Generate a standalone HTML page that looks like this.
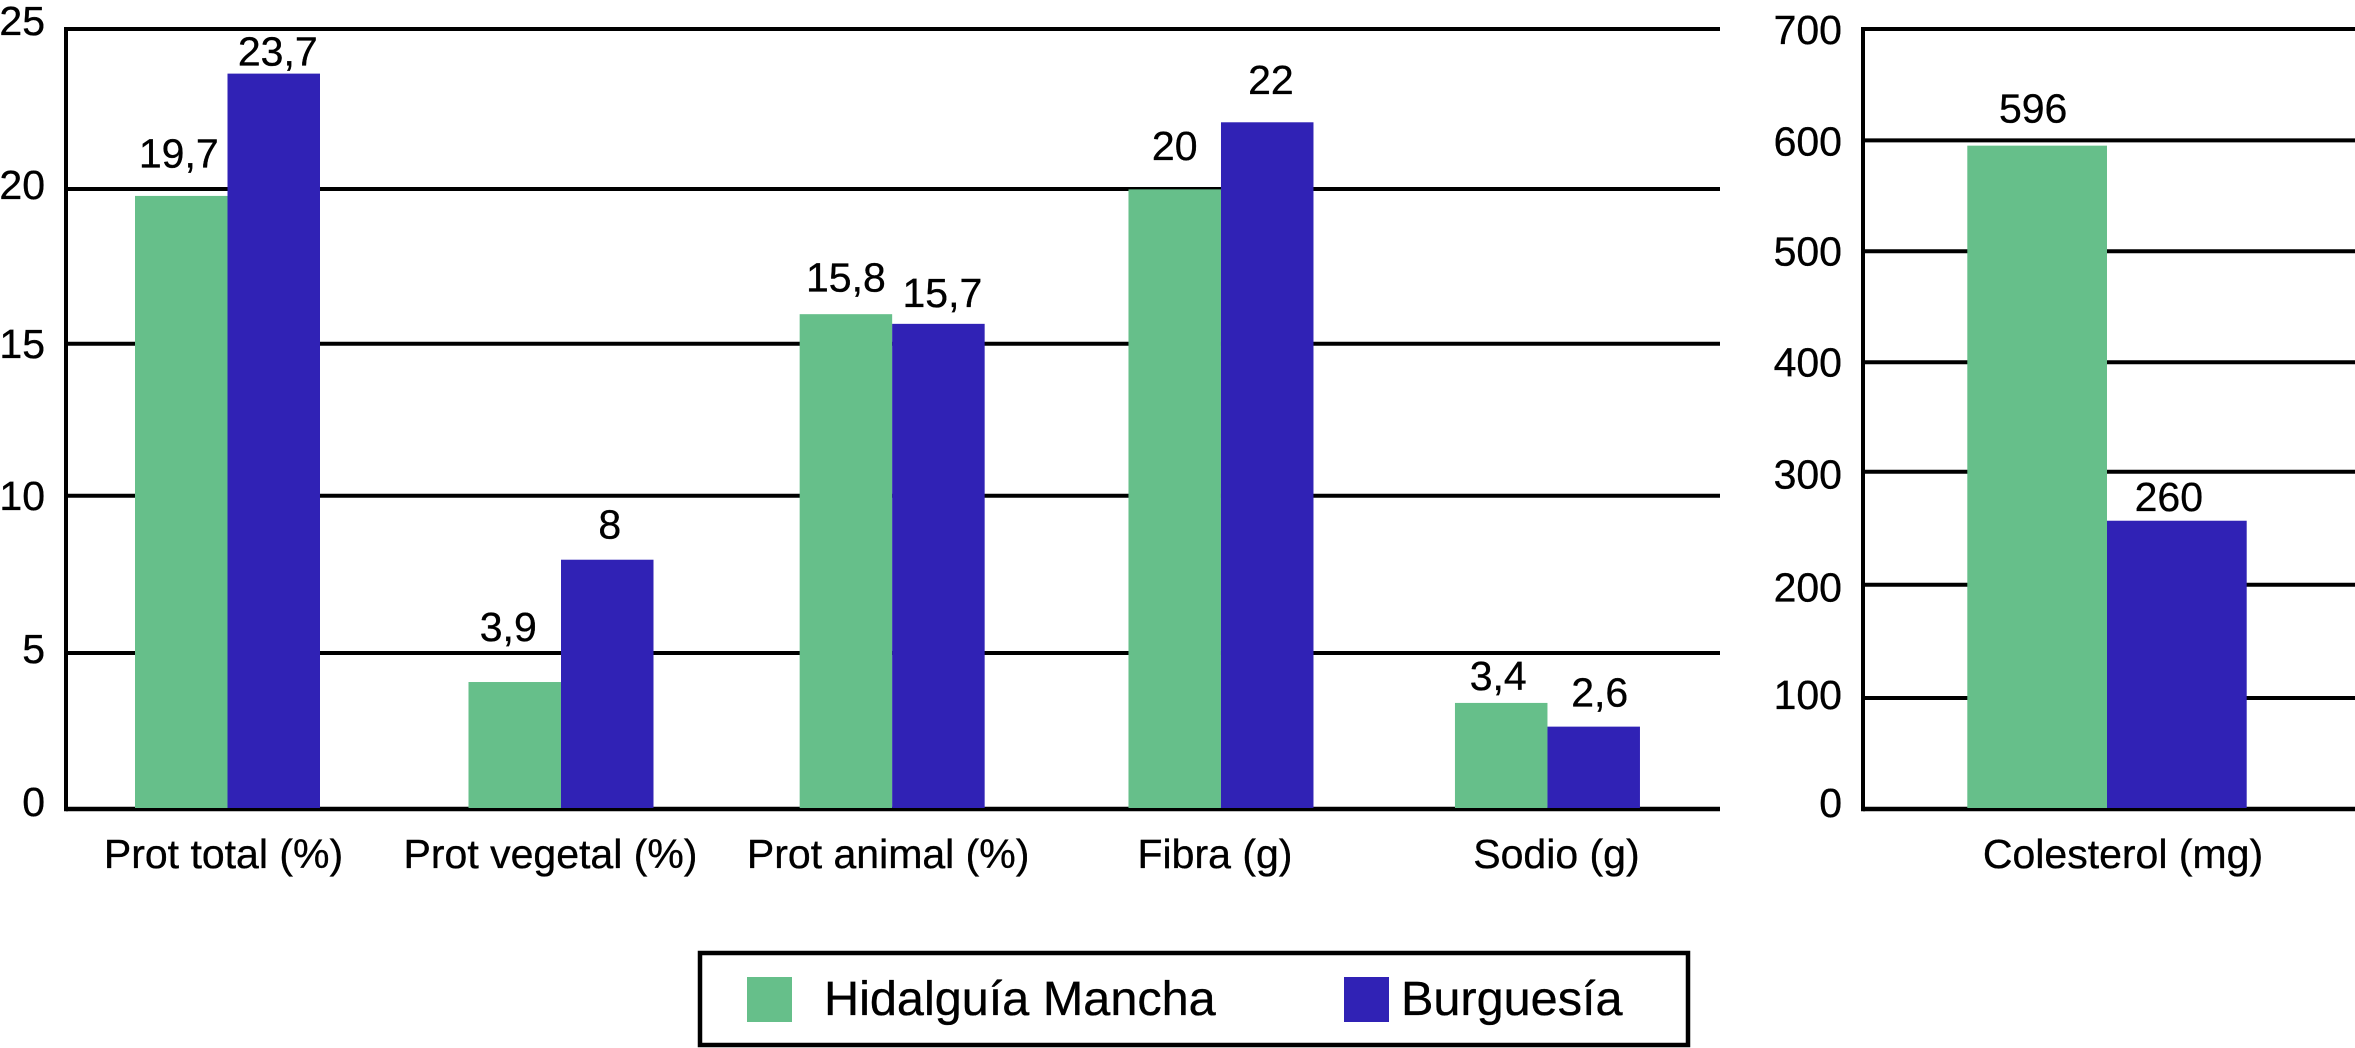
<!DOCTYPE html>
<html lang="es">
<head>
<meta charset="utf-8">
<title>Hidalguía Mancha vs Burguesía</title>
<style>
  html, body { margin: 0; padding: 0; background: #fff; }
  svg { display: block; }
  text { font-family: "Liberation Sans", sans-serif; fill: #000; stroke: #000; stroke-width: 0.35px; }
</style>
</head>
<body>
<svg id="chart" xmlns="http://www.w3.org/2000/svg" width="2355" height="1048" viewBox="0 0 2355 1048">
  <g id="left-panel"></g>
  <g id="right-panel"></g>
  <g>
    <rect x="700" y="953" width="988" height="92" fill="#fff" stroke="#000" stroke-width="4.5"/>
    <rect x="747" y="977" width="45" height="45" fill="#66BF8A"/>
    <text x="824" y="1015" font-size="48.6">Hidalguía Mancha</text>
    <rect x="1344" y="977" width="45" height="45" fill="#3022B5"/>
    <text x="1401" y="1015" font-size="48.6">Burguesía</text>
  </g>
</svg>
<script>
// Left panel data
const nutrientCategories = ['Prot total (%)', 'Prot vegetal (%)', 'Prot animal (%)', 'Fibra (g)', 'Sodio (g)'];
const hidalguiaValues = [19.65, 4.07, 15.86, 19.86, 3.4];
const burguesiaValues = [23.57, 7.99, 15.55, 22.01, 2.64];
const hidalguiaPrinted = ['19,7', '3,9', '15,8', '20', '3,4'];
const burguesiaPrinted = ['23,7', '8', '15,7', '22', '2,6'];
const nutrientTickLabels = ['25', '20', '15', '10', '5', '0'];
const nutrientGridLevels = [25, 19.87, 14.91, 10.04, 5, 0];

// Right panel data
const cholesterolCategories = ['Colesterol (mg)'];
const hidalguiaCholesterol = [595.3];
const burguesiaCholesterol = [258.7];
const hidalguiaCholesterolPrinted = ['596'];
const burguesiaCholesterolPrinted = ['260'];
const cholesterolTickLabels = ['700', '600', '500', '400', '300', '200', '100', '0'];
const cholesterolGridLevels = [700, 600, 500.5, 400.9, 302.7, 201.3, 99.6, 0];

const SVG_NS = 'http://www.w3.org/2000/svg';
const GREEN = '#66BF8A';
const BLUE = '#3022B5';
const BASELINE = 809;
const FONT = 41;

function make(parent, tag, attrs, content) {
  const el = document.createElementNS(SVG_NS, tag);
  for (const k in attrs) el.setAttribute(k, attrs[k]);
  if (content !== undefined) el.textContent = content;
  parent.appendChild(el);
  return el;
}

function drawPanel(cfg) {
  const g = document.getElementById(cfg.id);

  cfg.gridLevels.forEach(function (level, i) {
    const y = cfg.yScale(level);
    const isBase = level === 0;
    const line = make(g, 'line', { x1: cfg.axisX, x2: cfg.endX, y1: y, y2: y, stroke: '#000', 'stroke-width': isBase ? 4.5 : 4 });
    
    
    const tick = make(g, 'text', { x: cfg.tickRight, y: y + cfg.tickNudge[i], 'font-size': FONT, 'text-anchor': 'end' }, cfg.tickLabels[i]);
    
    
  });

  const axis = make(g, 'line', { x1: cfg.axisX, x2: cfg.axisX, y1: cfg.yScale(cfg.gridLevels[0]) - 2, y2: BASELINE + 2.25, stroke: '#000', 'stroke-width': 4 });
  
  

  cfg.categories.forEach(function (cat, i) {
    const c = cfg.center(i);
    const gy = cfg.yScale(cfg.greenValues[i]);
    const by = cfg.yScale(cfg.blueValues[i]);
    const greenBar = make(g, 'rect', { x: c - cfg.barWidth, y: gy, width: cfg.barWidth, height: BASELINE - 1 - gy, fill: GREEN });
    
    
    const blueBar = make(g, 'rect', { x: c, y: by, width: cfg.barWidth, height: BASELINE - 1 - by, fill: BLUE });
    
    

    const greenLabel = make(g, 'text', { x: c - cfg.barWidth / 2 + cfg.greenDx[i], y: gy - cfg.greenGap[i], 'font-size': FONT, 'text-anchor': 'middle' }, cfg.greenPrinted[i]);
    
    
    const blueLabel = make(g, 'text', { x: c + cfg.barWidth / 2 + cfg.blueDx[i], y: by - cfg.blueGap[i], 'font-size': FONT, 'text-anchor': 'middle' }, cfg.bluePrinted[i]);
    
    

    const catLabel = make(g, 'text', { x: c + cfg.catDx[i], y: 868, 'font-size': FONT, 'text-anchor': 'middle' }, cat);
    
    
  });
}

drawPanel({
  id: 'left-panel', prefix: 'nutrients',
  axisX: 66, endX: 1720, tickRight: 45, barWidth: 92.5,
  yScale: function (v) { return BASELINE - v * 31.2; },
  // the artwork's category bands tighten slightly from left to right
  center: function (i) { return 227.5 + 333.5 * i - 1.17 * i * (i - 1); },
  categories: nutrientCategories,
  greenValues: hidalguiaValues, blueValues: burguesiaValues,
  greenPrinted: hidalguiaPrinted, bluePrinted: burguesiaPrinted,
  gridLevels: nutrientGridLevels, tickLabels: nutrientTickLabels,
  tickNudge: [6, 10, 14, 14, 10, 7],
  greenDx: [-2.5, -6.5, 0, 0, -3], blueDx: [4, 2.5, 4, 3.7, 6],
  greenGap: [28.3, 41, 22.6, 29.3, 13], blueGap: [8, 21.4, 17, 28.3, 20],
  catDx: [-4, -10.5, -4, -6, 9]
});

drawPanel({
  id: 'right-panel', prefix: 'cholesterol',
  axisX: 1863, endX: 2355, tickRight: 1842, barWidth: 139.7,
  yScale: function (v) { return BASELINE - v * 1.1143; },
  center: function (i) { return 2107 + i; },
  categories: cholesterolCategories,
  greenValues: hidalguiaCholesterol, blueValues: burguesiaCholesterol,
  greenPrinted: hidalguiaCholesterolPrinted, bluePrinted: burguesiaCholesterolPrinted,
  gridLevels: cholesterolGridLevels, tickLabels: cholesterolTickLabels,
  tickNudge: [15, 15, 14, 14, 17, 17, 11, 8],
  greenDx: [-4], blueDx: [-8],
  greenGap: [23], blueGap: [9.7],
  catDx: [16]
});
</script>
</body>
</html>
